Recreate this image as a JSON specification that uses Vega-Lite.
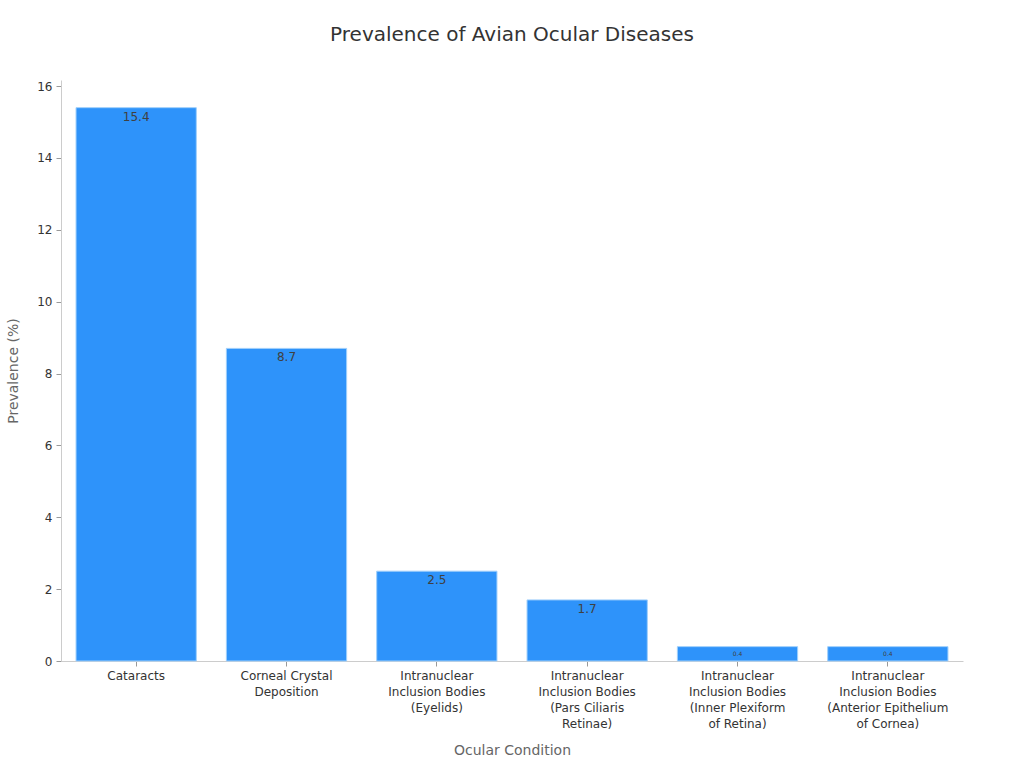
{
  "$schema": "https://vega.github.io/schema/vega-lite/v6.json",
  "width": 902,
  "height": 581,
  "padding": {"left": 6, "top": 25, "right": 61, "bottom": 5},
  "background": "white",
  "title": {"text": "Prevalence of Avian Ocular Diseases", "font": "DejaVu Sans", "fontSize": 20, "fontWeight": "normal", "color": "#333333", "offset": 35},
  "config": {
    "view": {"stroke": null},
    "font": "DejaVu Sans",
    "axis": {"labelFont": "DejaVu Sans", "titleFont": "DejaVu Sans", "labelFontSize": 12, "labelColor": "#333333", "titleFontSize": 14, "titleColor": "#666666", "titleFontWeight": "normal", "domainColor": "#cccccc", "tickColor": "#999999", "grid": false}
  },
  "data": {"values": [
    {"Condition": "Cataracts", "Prevalence": 15.4},
    {"Condition": "Corneal Crystal|Deposition", "Prevalence": 8.7},
    {"Condition": "Intranuclear|Inclusion Bodies|(Eyelids)", "Prevalence": 2.5},
    {"Condition": "Intranuclear|Inclusion Bodies|(Pars Ciliaris|Retinae)", "Prevalence": 1.7},
    {"Condition": "Intranuclear|Inclusion Bodies|(Inner Plexiform|of Retina)", "Prevalence": 0.4},
    {"Condition": "Intranuclear|Inclusion Bodies|(Anterior Epithelium|of Cornea)", "Prevalence": 0.4}
  ]},
  "encoding": {
    "x": {"field": "Condition", "type": "nominal", "sort": null,
      "scale": {"paddingInner": 0.2, "paddingOuter": 0.1},
      "axis": {"title": "Ocular Condition", "labelAngle": 0, "labelExpr": "split(datum.value, '|')", "labelLineHeight": 16, "labelPadding": 4, "titlePadding": 14, "tickSize": 5}},
    "y": {"field": "Prevalence", "type": "quantitative",
      "scale": {"domain": [0, 16.17], "nice": false},
      "axis": {"title": "Prevalence (%)", "values": [0, 2, 4, 6, 8, 10, 12, 14, 16], "tickSize": 5, "labelPadding": 4, "titlePadding": 16}}
  },
  "layer": [
    {"mark": {"type": "bar", "color": "#2E93FA", "stroke": "#9fcffb", "strokeWidth": 1}},
    {"mark": {"type": "text", "baseline": "top", "dy": 4, "color": "#404040", "font": "DejaVu Sans"},
      "encoding": {
        "text": {"field": "Prevalence", "type": "quantitative", "format": ".1f"},
        "size": {"condition": {"test": "datum.Prevalence < 1", "value": 6}, "value": 12}
      }}
  ]
}
